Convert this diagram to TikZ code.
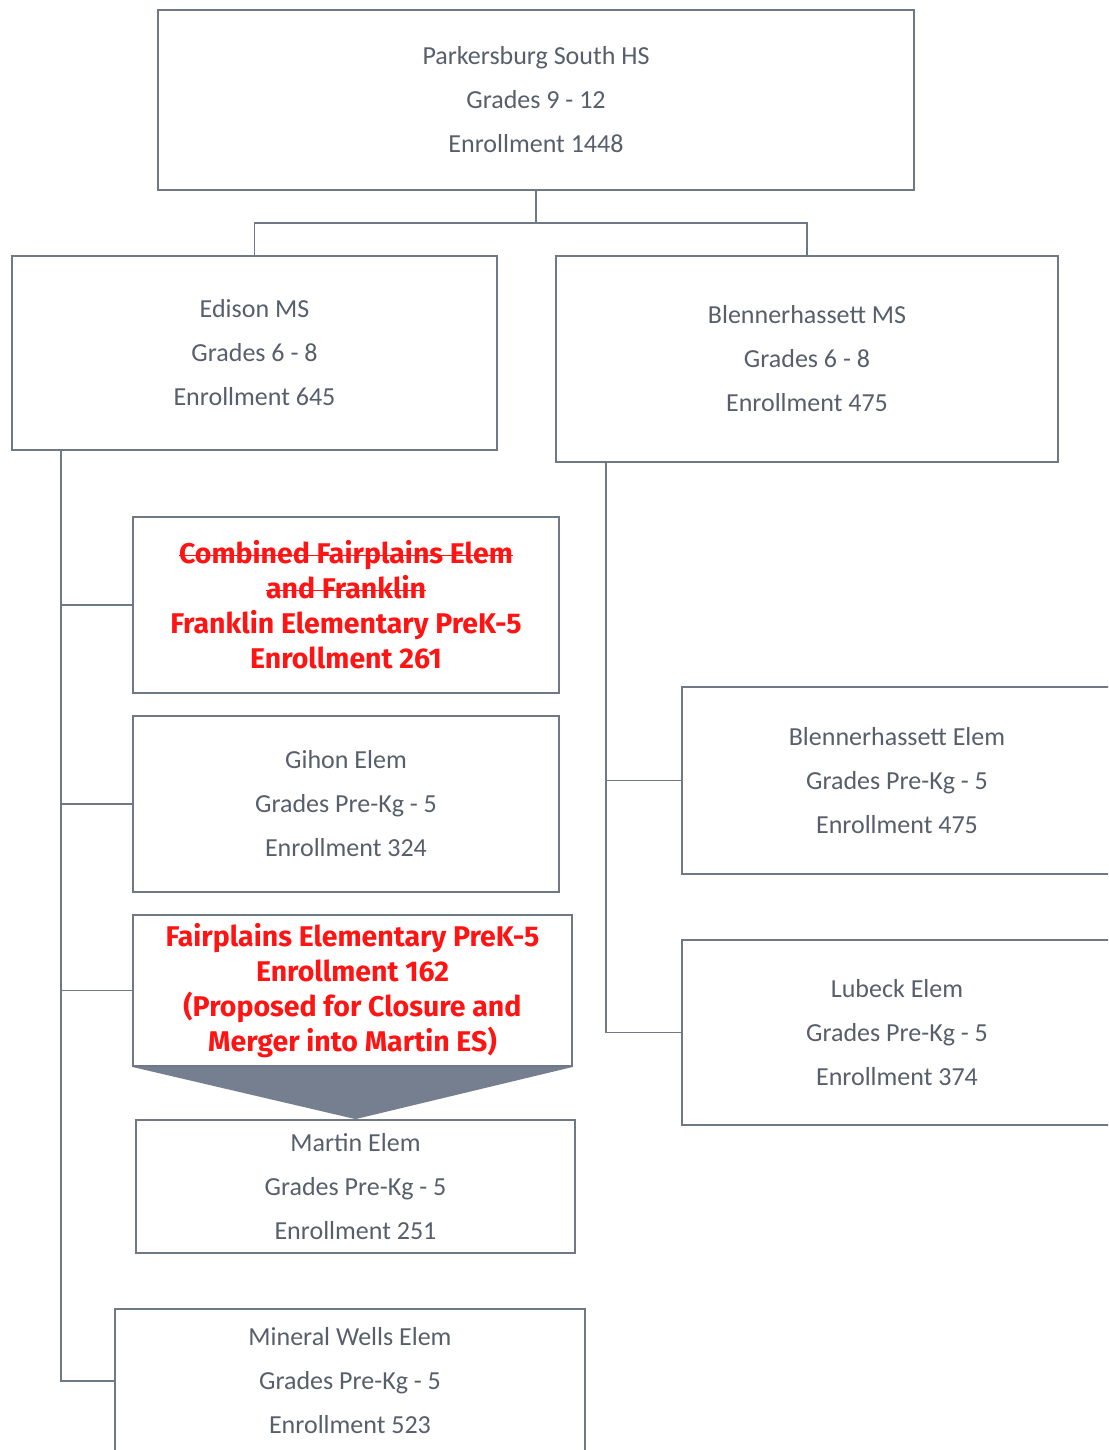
\documentclass[tikz,border=0pt]{standalone}
\usepackage{fontspec}
\setmainfont{Carlito}
\newfontfamily\redfont{Fira Sans}
\usetikzlibrary{positioning}

\newsavebox{\strikebox}
\newcommand{\strikeout}[1]{\sbox{\strikebox}{#1}\rlap{\rule[0.27em]{\wd\strikebox}{1.6pt}}\usebox{\strikebox}}

\definecolor{textgray}{RGB}{88,95,108}
\definecolor{linegray}{RGB}{112,120,134}
\definecolor{mergefill}{RGB}{117,127,143}
\definecolor{closered}{RGB}{255,20,20}

\begin{document}
\begin{tikzpicture}[
    x = 1pt, y = -1pt, % one unit per pixel, y downwards
    semithick
    ]

    \tikzset{
    schoolbox/.style = {
        draw = linegray,
        line width = 1.8pt,
        fill = white,
        inner sep = 0pt,
        align = center,
        text = textgray,
        font = \fontsize{26}{44}\selectfont
        },
    redbox/.style = {
        schoolbox,
        text = closered,
        font = \redfont\bfseries\fontsize{28.5}{35}\selectfont
        },
    link/.style = {draw = linegray, line width = 1.8pt}
    }

    \useasboundingbox[fill = white] (0,0) rectangle (1108,1450);
    \clip (0,0) rectangle (1108,1450);

    % high school and middle schools
    \node[schoolbox, minimum width = 756, minimum height = 180] (hs) at (536,100)
        {Parkersburg South HS\\Grades 9 - 12\\Enrollment 1448};
    \node[schoolbox, minimum width = 485, minimum height = 194] (ems) at (254.5,353)
        {Edison MS\\Grades 6 - 8\\Enrollment 645};
    \node[schoolbox, minimum width = 502, minimum height = 206] (bms) at (807,359)
        {Blennerhassett MS\\Grades 6 - 8\\Enrollment 475};

    % elementary schools under Edison
    \node[redbox, minimum width = 426, minimum height = 176] (fr) at (346,605)
        {\strikeout{Combined Fairplains Elem}\\\strikeout{and Franklin}\\Franklin Elementary PreK-5\\Enrollment 261};
    \node[schoolbox, minimum width = 426, minimum height = 176] (gi) at (346,804)
        {Gihon Elem\\Grades Pre-Kg - 5\\Enrollment 324};
    \node[redbox, minimum width = 439, minimum height = 151] (fp) at (352.5,990.5)
        {Fairplains Elementary PreK-5\\Enrollment 162\\(Proposed for Closure and\\Merger into Martin ES)};
    \node[schoolbox, minimum width = 439, minimum height = 133] (ma) at (355.5,1186.5)
        {Martin Elem\\Grades Pre-Kg - 5\\Enrollment 251};
    \node[schoolbox, minimum width = 470, minimum height = 144] (mw) at (350,1381)
        {Mineral Wells Elem\\Grades Pre-Kg - 5\\Enrollment 523};

    % elementary schools under Blennerhassett
    \node[schoolbox, minimum width = 430, minimum height = 187] (be) at (897,780.5)
        {Blennerhassett Elem\\Grades Pre-Kg - 5\\Enrollment 475};
    \node[schoolbox, minimum width = 430, minimum height = 185] (lu) at (897,1032.5)
        {Lubeck Elem\\Grades Pre-Kg - 5\\Enrollment 374};

    % merger wedge
    \fill[mergefill] (fp.south west) -- (fp.south east) -- (ma.north) -- cycle;

    % tree lines
    \path[link] (hs.south) -- ++(0,32) -| (ems.north);
    \path[link] (hs.south) -- ++(0,32) -| (bms.north);

    \coordinate (ltop) at (61,450);
    \path[link] (ltop) |- (fr.west);
    \path[link] (ltop) |- (gi.west);
    \path[link] (ltop) |- (fp.west);
    \path[link] (ltop) |- (mw.west);

    \coordinate (rtop) at (606,462);
    \path[link] (rtop) |- (be.west);
    \path[link] (rtop) |- (lu.west);
\end{tikzpicture}
\end{document}
